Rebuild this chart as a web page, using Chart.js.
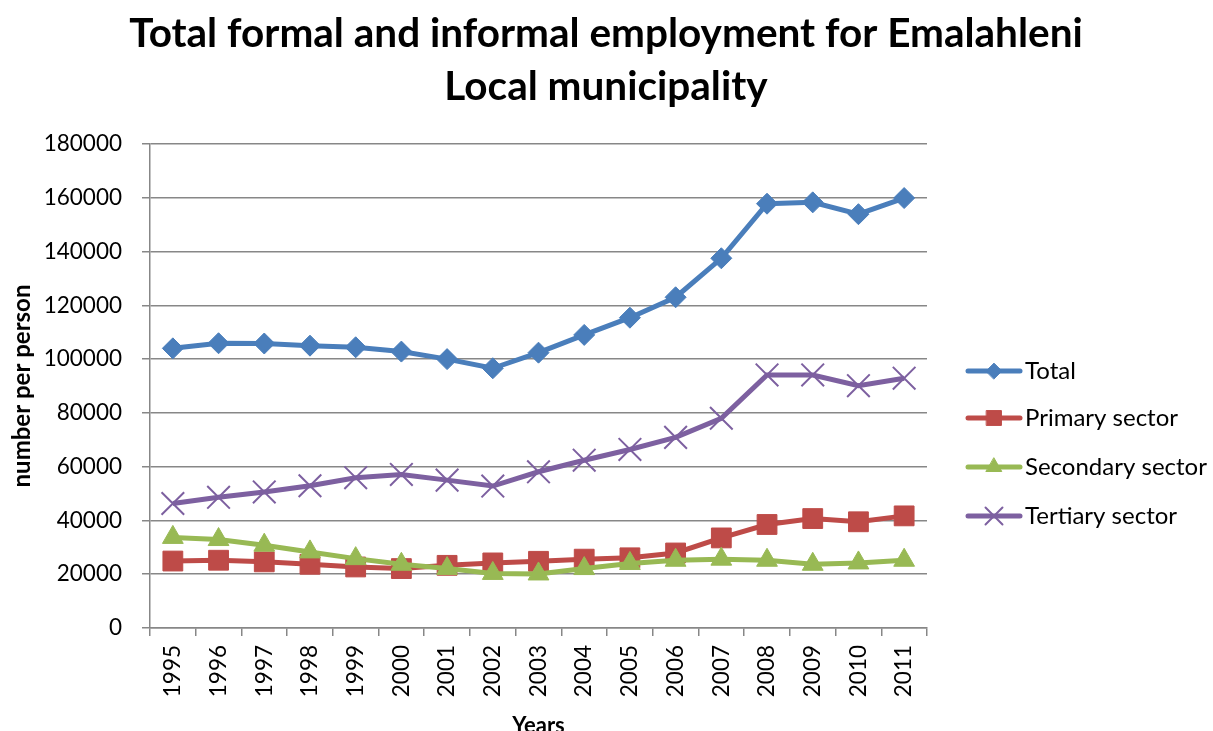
<!DOCTYPE html>
<html>
<head>
<meta charset="utf-8">
<script src="https://cdn.jsdelivr.net/npm/chart.js@4"></script>
<style>
  html, body { margin: 0; padding: 0; background: #fff; }
</style>
</head>
<body>
<canvas id="empChart" width="1213" height="731"></canvas>
<script>
const years = ["1995", "1996", "1997", "1998", "1999", "2000", "2001", "2002", "2003",
  "2004", "2005", "2006", "2007", "2008", "2009", "2010", "2011"];
const total = [104000, 105900, 105800, 105000, 104400, 102800, 100000, 96600, 102400,
  109000, 115400, 123000, 137500, 157800, 158300, 153900, 159900];
const primary = [24900, 25200, 24600, 23700, 22700, 22100, 23300, 24200, 24800,
  25600, 26100, 27900, 33500, 38500, 40700, 39500, 41700];
const secondary = [33700, 32900, 30800, 28300, 25800, 23700, 22100, 20300, 20100,
  22100, 24000, 25200, 25600, 25200, 23700, 24200, 25200];
const tertiary = [46300, 48600, 50600, 52900, 55900, 57100, 55000, 52800, 58100,
  62400, 66400, 70900, 78000, 94100, 94100, 90100, 92900];
const titleLines = ["Total formal and informal employment for Emalahleni", "Local municipality"];

const FONT = "Lato, 'Open Sans', sans-serif";
const GRID = "#878787";

function series(label, data, color, style, radius, order) {
  return {
    label: label,
    data: data,
    borderColor: color,
    backgroundColor: color,
    borderWidth: 5,
    pointStyle: style,
    pointRadius: radius,
    pointHoverRadius: radius,
    pointBackgroundColor: color,
    pointBorderColor: color,
    pointBorderWidth: style === "crossRot" ? 2 : 1,
    tension: 0,
    order: order,
  };
}

// title and right-hand legend painted straight onto the canvas
const decorations = {
  id: "decorations",
  afterDraw(chart) {
    const ctx = chart.ctx;
    ctx.save();
    ctx.fillStyle = "#000";
    ctx.textAlign = "center";
    ctx.textBaseline = "alphabetic";
    ctx.font = "bold 40.5px " + FONT;
    ctx.fillText(titleLines[0], 606, 47);
    ctx.fillText(titleLines[1], 606, 100);

    const rows = [371, 418, 467, 516];
    ctx.textBaseline = "middle";
    chart.data.datasets.forEach((ds, i) => {
      const y = rows[i];
      ctx.strokeStyle = ds.borderColor;
      ctx.fillStyle = ds.borderColor;
      ctx.lineWidth = 5;
      ctx.lineCap = "round";
      ctx.beginPath();
      ctx.moveTo(968, y);
      ctx.lineTo(1020, y);
      ctx.stroke();
      ctx.lineWidth = ds.pointBorderWidth;
      Chart.helpers.drawPoint(ctx, {
        pointStyle: ds.pointStyle,
        radius: ds.pointRadius * 0.75,
        rotation: 0,
        borderWidth: ds.pointBorderWidth,
      }, 994, y);
      ctx.fillStyle = "#000";
      ctx.textAlign = "left";
      ctx.font = "24px " + FONT;
      ctx.fillText(ds.label, 1025, y);
    });
    ctx.restore();
  },
};

new Chart(document.getElementById("empChart").getContext("2d"), {
  type: "line",
  data: {
    labels: years,
    datasets: [
      series("Total", total, "#4A7EBB", "rectRot", 10.5, 4),
      series("Primary sector", primary, "#BE4B48", "rect", 14, 3),
      series("Secondary sector", secondary, "#98B954", "triangle", 12, 2),
      series("Tertiary sector", tertiary, "#7D60A0", "crossRot", 16, 1),
    ],
  },
  options: {
    responsive: false,
    animation: false,
    layout: { padding: { top: 144, right: 286, left: 0, bottom: 0 } },
    plugins: {
      legend: { display: false },
      tooltip: { enabled: false },
    },
    scales: {
      x: {
        offset: true,
        afterFit: (s) => { s.height = 103; },
        grid: { offset: true, drawOnChartArea: false, drawTicks: true, tickLength: 8, color: GRID, lineWidth: 1.5 },
        border: { color: GRID, width: 1.5 },
        ticks: { minRotation: 90, maxRotation: 90, autoSkip: false, padding: 9, color: "#000", font: { family: FONT, size: 22.5 } },
        title: { display: true, text: "Years", color: "#000", font: { family: FONT, size: 22, weight: "bold" }, padding: { top: 0, bottom: -8 } },
      },
      y: {
        min: 0,
        max: 180000,
        afterFit: (s) => { s.width = 150; },
        grid: { color: GRID, lineWidth: 1.5, drawTicks: true, tickLength: 8 },
        border: { color: GRID, width: 1.5 },
        ticks: { stepSize: 20000, padding: 20, color: "#000", font: { family: FONT, size: 22.5 }, callback: (v) => String(v) },
        title: { display: true, text: "number per person", color: "#000", font: { family: FONT, size: 24, weight: "bold" }, padding: { top: 8, bottom: 0 } },
      },
    },
  },
  plugins: [decorations],
});
</script>
</body>
</html>
